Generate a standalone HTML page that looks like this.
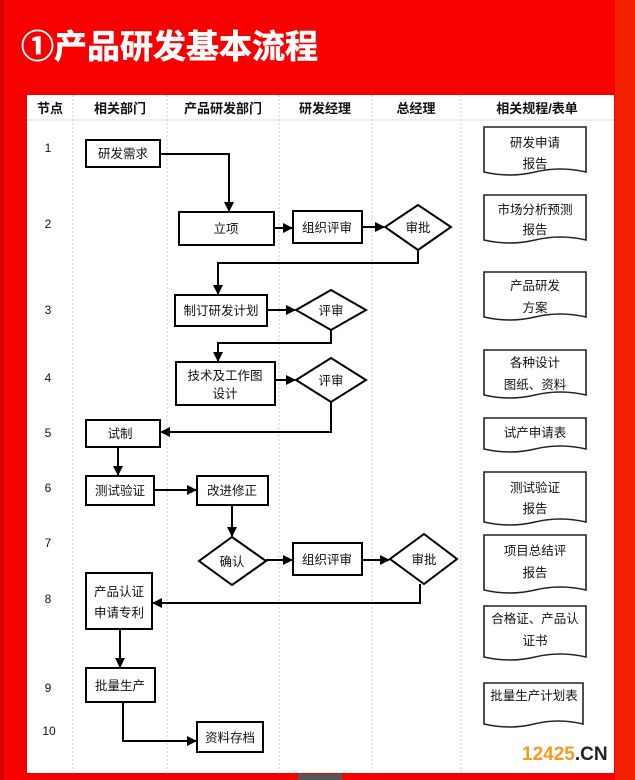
<!DOCTYPE html>
<html><head><meta charset="utf-8"><style>
html,body{margin:0;padding:0;background:#f50000;}
svg{display:block}
text{font-family:"Liberation Sans","Noto Sans CJK SC",sans-serif;}
</style></head><body>
<svg width="635" height="780" viewBox="0 0 635 780" xmlns="http://www.w3.org/2000/svg">
<defs>
<marker id="a" viewBox="0 0 10 10" refX="9" refY="5" markerWidth="5" markerHeight="5" orient="auto"><path d="M0,0L10,5L0,10z" fill="#000"/></marker>
</defs>
<rect width="635" height="780" fill="#f80000"/>
<rect x="615" y="0" width="20" height="780" fill="#f02000"/>
<rect x="0" y="0" width="4" height="780" fill="#d80000"/>
<text x="21" y="58" font-size="33" font-weight="bold" fill="#fff" stroke="#fff" stroke-width="0.6">①产品研发基本流程</text>
<rect x="27" y="95" width="587" height="678" fill="#fff"/>
<rect x="298" y="774" width="44" height="6" fill="#555"/>
<g stroke="#ccc" stroke-dasharray="2,2" stroke-width="1">
<line x1="73" y1="95" x2="73" y2="772"/><line x1="167" y1="95" x2="167" y2="772"/>
<line x1="279" y1="95" x2="279" y2="772"/><line x1="372" y1="95" x2="372" y2="772"/>
<line x1="461" y1="95" x2="461" y2="772"/>
</g>
<line x1="27" y1="120" x2="614" y2="120" stroke="#ddd"/>
<g font-size="13" font-weight="bold" text-anchor="middle" fill="#111">
<text x="50" y="113">节点</text><text x="120" y="113">相关部门</text><text x="223" y="113">产品研发部门</text>
<text x="325" y="113">研发经理</text><text x="416" y="113">总经理</text><text x="537" y="113">相关规程/表单</text>
</g>
<g font-size="12" text-anchor="middle" fill="#111" font-family="Liberation Serif">
<text x="48" y="152">1</text><text x="48" y="228">2</text><text x="48" y="314">3</text><text x="48" y="382">4</text>
<text x="48" y="437">5</text><text x="48" y="492">6</text><text x="48" y="547">7</text><text x="48" y="603">8</text>
<text x="48" y="692">9</text><text x="49" y="735">10</text>
</g>
<g fill="none" stroke="#000" stroke-width="2">
<rect x="86" y="140" width="74" height="27"/>
<rect x="179" y="212" width="95" height="33"/>
<rect x="293" y="211" width="69" height="32"/>
<path d="M418,205L451,227L418,250L385,227z"/>
<rect x="175" y="295" width="92" height="31"/>
<path d="M331,290L366,310L331,330L296,310z"/>
<rect x="176" y="362" width="99" height="43"/>
<path d="M331,358L366,380L331,402L296,380z"/>
<rect x="86" y="420" width="74" height="27"/>
<rect x="86" y="476" width="68" height="29"/>
<rect x="197" y="476" width="71" height="29"/>
<path d="M232,537L266,561L232,585L199,561z"/>
<rect x="293" y="543" width="69" height="32"/>
<path d="M424,534L457,559L424,584L390,559z"/>
<rect x="86" y="573" width="66" height="56"/>
<rect x="86" y="668" width="69" height="34"/>
<rect x="197" y="722" width="66" height="30"/>
</g>
<g fill="none" stroke="#000" stroke-width="2" marker-end="url(#a)">
<path d="M160,154H229V211"/>
<path d="M274,228H292"/>
<path d="M362,227H384"/>
<path d="M418,250V263H218V294"/>
<path d="M267,310H295"/>
<path d="M331,330V343H218V361"/>
<path d="M275,380H295"/>
<path d="M331,402V432H161"/>
<path d="M118,447V475"/>
<path d="M154,490H196"/>
<path d="M232,505V536"/>
<path d="M266,560H292"/>
<path d="M362,560H389"/>
<path d="M420,584V603H153"/>
<path d="M120,629V667"/>
<path d="M123,702V741H196"/>
</g>
<g fill="#fff" stroke="#222" stroke-width="1.6">
<path d="M484,127H586V172Q560,166 535,172T484,172Z"/>
<path d="M484,195H586V240Q560,234 535,240T484,240Z"/>
<path d="M484,272H586V317Q560,311 535,317T484,317Z"/>
<path d="M484,350H586V395Q560,389 535,395T484,395Z"/>
<path d="M484,418H586V449Q560,443 535,449T484,449Z"/>
<path d="M484,472H586V522Q560,516 535,522T484,522Z"/>
<path d="M484,535H586V590Q560,584 535,590T484,590Z"/>
<path d="M484,606H586V657Q560,651 535,657T484,657Z"/>
<path d="M484,683H583V724Q558,718 534,724T484,724Z"/>
</g>
<g font-size="12.5" text-anchor="middle" fill="#111">
<text x="123" y="158">研发需求</text>
<text x="226" y="233">立项</text>
<text x="327" y="232">组织评审</text>
<text x="418" y="232">审批</text>
<text x="221" y="315">制订研发计划</text>
<text x="331" y="315">评审</text>
<text x="225" y="380">技术及工作图</text><text x="225" y="398">设计</text>
<text x="331" y="385">评审</text>
<text x="120" y="438">试制</text>
<text x="120" y="495">测试验证</text>
<text x="232" y="495">改进修正</text>
<text x="232" y="566">确认</text>
<text x="327" y="564">组织评审</text>
<text x="424" y="564">审批</text>
<text x="119" y="596">产品认证</text><text x="119" y="617">申请专利</text>
<text x="120" y="690">批量生产</text>
<text x="230" y="742">资料存档</text>
<text x="535" y="147">研发申请</text><text x="535" y="168">报告</text>
<text x="535" y="214">市场分析预测</text><text x="535" y="234">报告</text>
<text x="535" y="290">产品研发</text><text x="535" y="312">方案</text>
<text x="535" y="367">各种设计</text><text x="535" y="389">图纸、资料</text>
<text x="535" y="437">试产申请表</text>
<text x="535" y="492">测试验证</text><text x="535" y="513">报告</text>
<text x="535" y="555">项目总结评</text><text x="535" y="577">报告</text>
<text x="535" y="623">合格证、产品认</text><text x="535" y="645">证书</text>
<text x="534" y="700">批量生产计划表</text>
</g>
<text x="522" y="760" font-size="19" font-weight="bold" fill="#f79a1e">12425<tspan fill="#222">.CN</tspan></text>
</svg>
</body></html>
